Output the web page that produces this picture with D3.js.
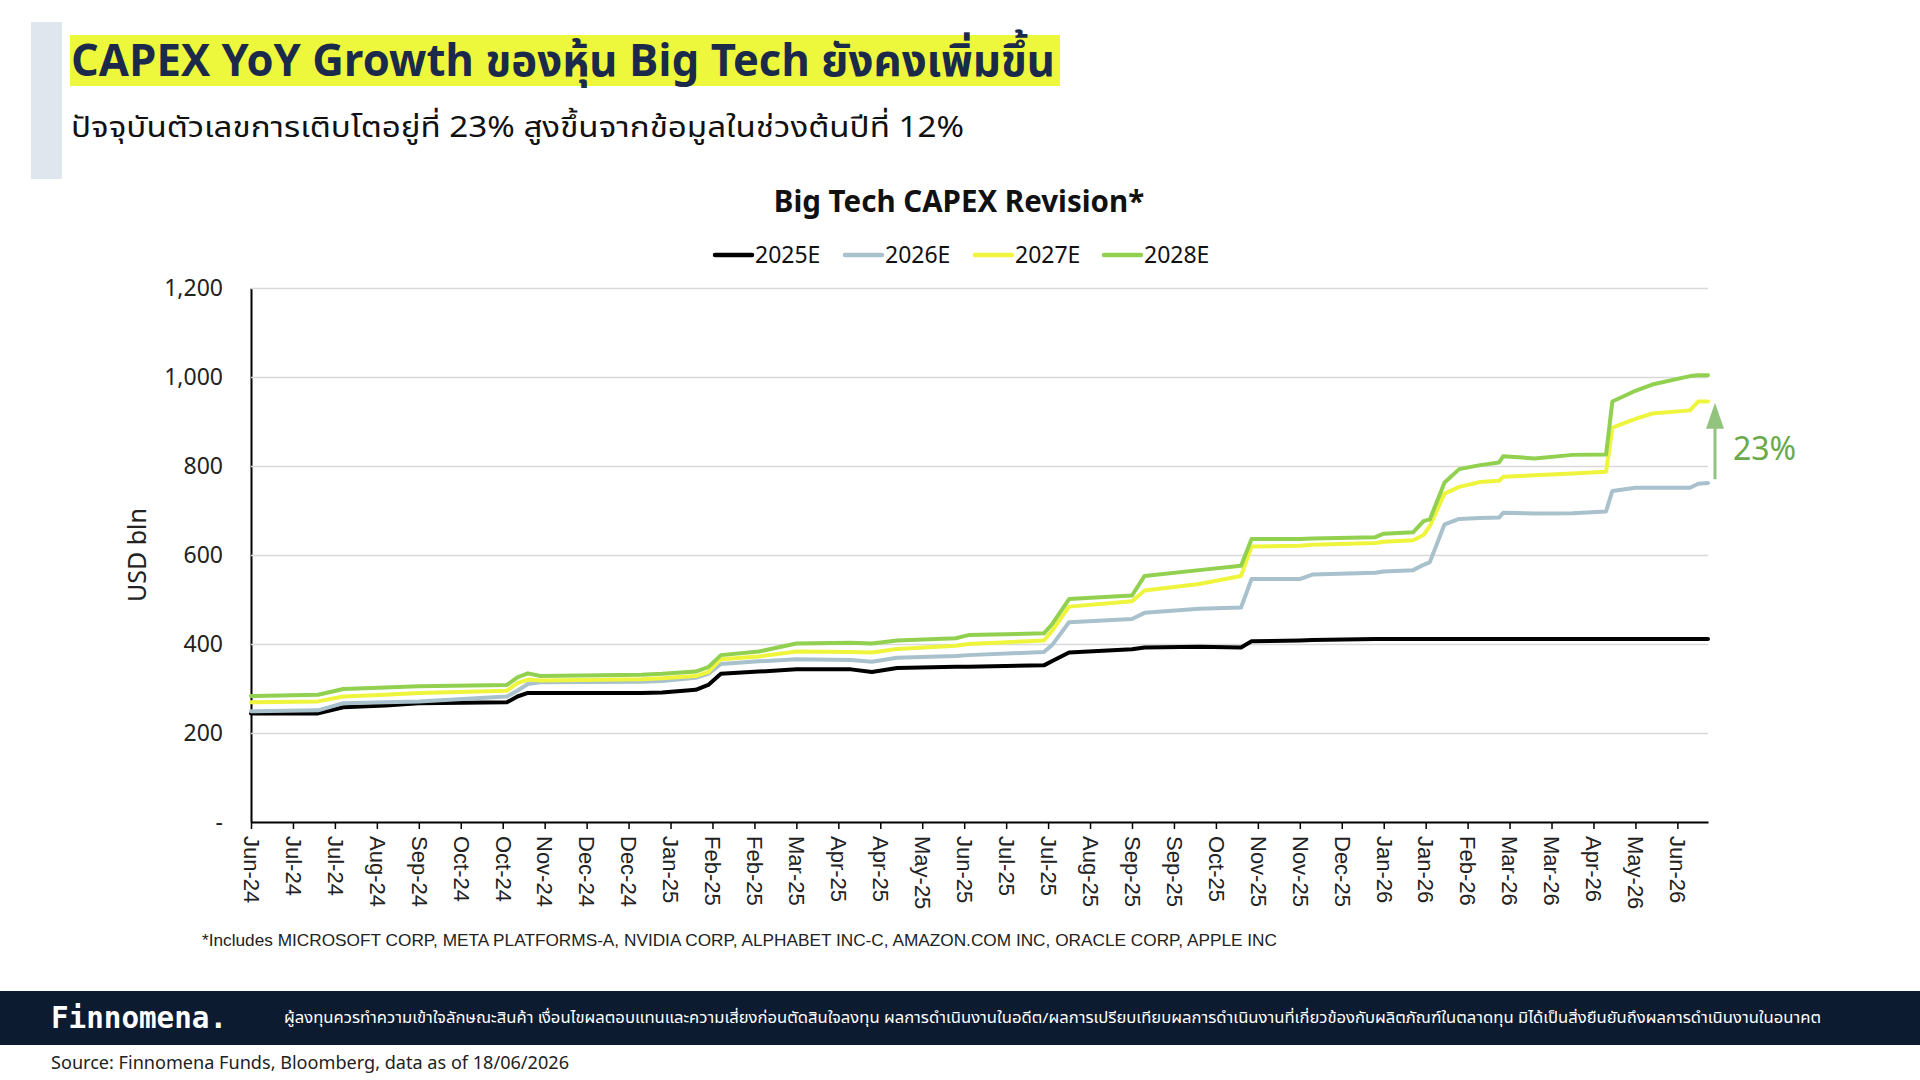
<!DOCTYPE html>
<html>
<head>
<meta charset="utf-8">
<script src="https://cdn.jsdelivr.net/npm/d3@7"></script>
<style>
  body { margin: 0; background: #fff; }
  svg { display: block; }
</style>
</head>
<body>
<div id="chart"></div>
<script>
// tick labels along the x axis (one every ~3 weeks)
const tickLabels = ['Jun-24','Jul-24','Jul-24','Aug-24','Sep-24','Oct-24','Oct-24','Nov-24','Dec-24','Dec-24',
  'Jan-25','Feb-25','Feb-25','Mar-25','Apr-25','Apr-25','May-25','Jun-25','Jul-25','Jul-25','Aug-25','Sep-25',
  'Sep-25','Oct-25','Nov-25','Nov-25','Dec-25','Jan-26','Jan-26','Feb-26','Mar-26','Mar-26','Apr-26','May-26','Jun-26'];

// observation positions, in tick units
const obsPos = [0, 1.6, 2.2, 3.2, 4.0, 6.1, 6.35, 6.6, 6.9, 9.3, 9.8, 10.6, 10.9, 11.2, 12.1, 13.0, 14.3, 14.8,
  15.4, 16.8, 17.1, 18.9, 19.1, 19.5, 21.0, 21.3, 22.6, 23.6, 23.85, 25.0, 25.3, 26.8, 27.0, 27.7, 27.95, 28.1,
  28.45, 28.8, 29.3, 29.75, 29.85, 30.6, 31.5, 32.3, 32.45, 33.0, 33.4, 34.3, 34.5, 34.73];

const capex2025 = [244, 244, 258, 262, 267, 269, 282, 290, 290, 290, 291, 297, 308, 333, 338, 343, 343, 337,
  346, 349, 349, 352, 362, 381, 388, 392, 394, 392, 406, 408, 409, 411, 411, 411, 411, 411,
  411, 411, 411, 411, 411, 411, 411, 411, 411, 411, 411, 411, 411, 411];
const capex2026 = [249, 251, 267, 269, 271, 282, 295, 310, 314, 315, 317, 324, 333, 355, 361, 366, 364, 360,
  369, 373, 375, 382, 398, 449, 456, 470, 479, 482, 546, 546, 556, 560, 563, 566, 578, 584,
  669, 681, 683, 684, 695, 693, 694, 698, 744, 751, 751, 751, 760, 762];
const capex2027 = [269, 271, 282, 286, 290, 295, 312, 320, 318, 321, 323, 328, 337, 366, 372, 383, 382, 381,
  389, 396, 400, 408, 430, 484, 496, 520, 535, 553, 619, 621, 623, 627, 630, 633, 645, 665,
  738, 753, 764, 767, 776, 779, 783, 787, 886, 906, 918, 925, 945, 945];
const capex2028 = [283, 286, 299, 302, 305, 308, 325, 334, 328, 331, 333, 338, 348, 375, 383, 401, 403, 401,
  408, 413, 420, 424, 445, 501, 509, 553, 566, 576, 636, 636, 637, 640, 648, 651, 676, 680,
  763, 793, 802, 808, 822, 817, 825, 826, 945, 969, 983, 1002, 1004, 1004];

const seriesNames = ['2025E', '2026E', '2027E', '2028E'];
const seriesColors = ['#000000', '#a8c1cd', '#eef53c', '#92d050'];
const yTicks = [0, 200, 400, 600, 800, 1000, 1200];

const title = 'CAPEX YoY Growth ของหุ้น Big Tech ยังคงเพิ่มขึ้น';
const subtitle = 'ปัจจุบันตัวเลขการเติบโตอยู่ที่ 23% สูงขึ้นจากข้อมูลในช่วงต้นปีที่ 12%';
const chartTitle = 'Big Tech CAPEX Revision*';
const footnote = '*Includes MICROSOFT CORP, META PLATFORMS-A, NVIDIA CORP, ALPHABET INC-C, AMAZON.COM INC, ORACLE CORP, APPLE INC';
const disclaimer = 'ผู้ลงทุนควรทำความเข้าใจลักษณะสินค้า เงื่อนไขผลตอบแทนและความเสี่ยงก่อนตัดสินใจลงทุน ผลการดำเนินงานในอดีต/ผลการเปรียบเทียบผลการดำเนินงานที่เกี่ยวข้องกับผลิตภัณฑ์ในตลาดทุน มิได้เป็นสิ่งยืนยันถึงผลการดำเนินงานในอนาคต';
const source = 'Source: Finnomena Funds, Bloomberg, data as of 18/06/2026';
const growthLabel = '23%';

const width = 1920, height = 1080;
const thai = '"Noto Sans Thai", "Noto Sans", "Noto Sans CJK SC", sans-serif';
const arial = '"Liberation Sans", Arial, sans-serif';
const sans = '"Noto Sans", sans-serif';

const svg = d3.select('#chart').append('svg')
    .attr('width', width)
    .attr('height', height);

// header
svg.append('rect').attr('x', 31).attr('y', 22).attr('width', 31).attr('height', 157).attr('fill', '#dfe6ed');
svg.append('rect').attr('x', 70).attr('y', 35).attr('width', 990).attr('height', 51).attr('fill', '#edf83c');
svg.append('text')
    .attr('x', 71).attr('y', 76)
    .attr('font-family', thai).attr('font-weight', 'bold').attr('font-size', 45)
    .attr('fill', '#1b2a4a')
    .attr('textLength', 984).attr('lengthAdjust', 'spacingAndGlyphs')
    .text(title);
svg.append('text')
    .attr('x', 71).attr('y', 137)
    .attr('font-family', thai).attr('font-size', 29)
    .attr('fill', '#111')
    .attr('textLength', 893).attr('lengthAdjust', 'spacingAndGlyphs')
    .text(subtitle);

const margin = {top: 288, right: 212, bottom: 258, left: 251};

const x = d3.scaleLinear()
    .domain([0, obsPos[obsPos.length - 1]])
    .range([margin.left, width - margin.right]);

const y = d3.scaleLinear()
    .domain([0, 1200])
    .range([height - margin.bottom, margin.top]);

svg.append('text')
    .attr('x', 959).attr('y', 212)
    .attr('text-anchor', 'middle')
    .attr('font-family', sans).attr('font-weight', 'bold').attr('font-size', 29.5)
    .attr('fill', '#111')
    .text(chartTitle);

// gridlines + y axis
const yAxis = g => g
    .attr('transform', `translate(${margin.left},0)`)
    .call(d3.axisLeft(y).tickValues(yTicks).tickSize(0).tickPadding(28)
        .tickFormat(d => d === 0 ? '-' : d3.format(',')(d)))
    .call(g => g.select('.domain').attr('stroke', '#000').attr('stroke-width', 2))
    .call(g => g.selectAll('.tick text')
        .attr('font-family', sans).attr('font-size', 23).attr('fill', '#222'))
    .call(g => g.selectAll('.tick').filter(d => d > 0).append('line')
        .attr('x2', width - margin.left - margin.right)
        .attr('stroke', '#d9d9d9').attr('stroke-width', 1.5));

svg.append('g').call(yAxis);

svg.append('text')
    .attr('transform', `translate(146,${(y(0) + y(1200)) / 2}) rotate(-90)`)
    .attr('text-anchor', 'middle')
    .attr('font-family', sans).attr('font-size', 25).attr('fill', '#222')
    .text('USD bln');

const xAxis = g => g
    .attr('transform', `translate(0,${height - margin.bottom})`)
    .call(d3.axisBottom(x).tickValues(d3.range(tickLabels.length)).tickSize(7).tickSizeOuter(0)
        .tickFormat(i => tickLabels[i]))
    .call(g => g.select('.domain').attr('stroke', '#000').attr('stroke-width', 2))
    .call(g => g.selectAll('.tick line').attr('stroke', '#000').attr('stroke-width', 1.5))
    .call(g => g.selectAll('.tick text')
        .attr('transform', 'rotate(90)')
        .attr('x', 14).attr('y', 0).attr('dy', '0.35em')
        .attr('text-anchor', 'start')
        .attr('font-family', arial).attr('font-size', 22).attr('fill', '#222'));

svg.append('g').call(xAxis);

// lines
const series = [capex2025, capex2026, capex2027, capex2028];
const line = d3.line()
    .x((d, i) => x(obsPos[i]))
    .y(d => y(d));

svg.append('g')
    .attr('fill', 'none')
    .attr('stroke-linejoin', 'round')
    .attr('stroke-linecap', 'round')
  .selectAll('path')
  .data(series)
  .join('path')
    .attr('stroke', (d, i) => seriesColors[i])
    .attr('stroke-width', 4)
    .attr('d', line);

// legend
const legendX = [715, 845, 975, 1104];
const legend = svg.append('g')
  .selectAll('g')
  .data(seriesNames)
  .join('g')
    .attr('transform', (d, i) => `translate(${legendX[i]},255)`);
legend.append('line')
    .attr('x2', 37)
    .attr('stroke', (d, i) => seriesColors[i])
    .attr('stroke-width', 4.5)
    .attr('stroke-linecap', 'round');
legend.append('text')
    .attr('x', 40).attr('dy', '0.35em')
    .attr('font-family', sans).attr('font-size', 23).attr('fill', '#111')
    .text(d => d);

// growth arrow
const lastIdx = obsPos.length - 1;
const arrowX = 1715;
const arrowY0 = y(capex2027[lastIdx] * 0.815);
const arrowY1 = y(capex2027[lastIdx] - 3);
svg.append('line')
    .attr('x1', arrowX).attr('x2', arrowX)
    .attr('y1', arrowY0).attr('y2', arrowY1 + 24)
    .attr('stroke', '#93c47d').attr('stroke-width', 3);
svg.append('path')
    .attr('d', `M${arrowX - 9},${arrowY1 + 26} L${arrowX},${arrowY1} L${arrowX + 9},${arrowY1 + 26} Z`)
    .attr('fill', '#93c47d');
svg.append('text')
    .attr('x', 1733).attr('y', 460)
    .attr('font-family', sans).attr('font-size', 32).attr('fill', '#6aaa4a')
    .text(growthLabel);

// footnote
svg.append('text')
    .attr('x', 202).attr('y', 946)
    .attr('font-family', arial).attr('font-size', 17).attr('fill', '#222')
    .attr('textLength', 1075).attr('lengthAdjust', 'spacingAndGlyphs')
    .text(footnote);

// footer band
svg.append('rect').attr('x', 0).attr('y', 991).attr('width', width).attr('height', 54).attr('fill', '#0c1b30');
svg.append('text')
    .attr('x', 51).attr('y', 1028)
    .attr('font-family', '"DejaVu Sans Mono", monospace').attr('font-weight', 'bold')
    .attr('font-size', 30).attr('fill', '#fff')
    .attr('textLength', 176).attr('lengthAdjust', 'spacingAndGlyphs')
    .text('Finnomena.');
svg.append('text')
    .attr('x', 284).attr('y', 1023)
    .attr('font-family', thai).attr('font-size', 15).attr('fill', '#fff')
    .attr('textLength', 1537).attr('lengthAdjust', 'spacingAndGlyphs')
    .text(disclaimer);

svg.append('text')
    .attr('x', 51).attr('y', 1069)
    .attr('font-family', sans).attr('font-size', 18).attr('fill', '#222')
    .attr('textLength', 518).attr('lengthAdjust', 'spacingAndGlyphs')
    .text(source);
</script>
</body>
</html>
